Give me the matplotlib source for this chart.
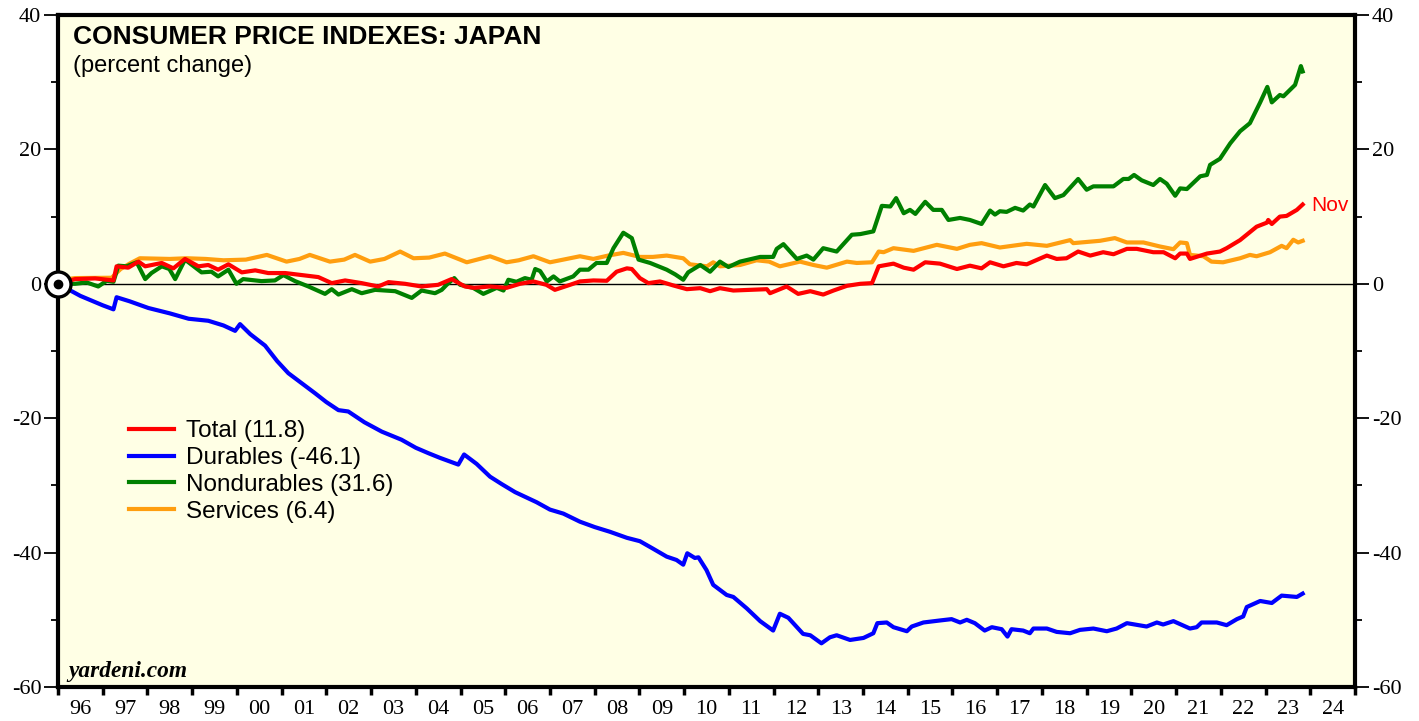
import matplotlib
matplotlib.use("Agg")
import matplotlib.pyplot as plt
from matplotlib.ticker import FixedLocator, MultipleLocator, NullFormatter
from matplotlib.lines import Line2D

plt.rcParams["axes.unicode_minus"] = False

# ---------------- data (decimal year, percent change since Jan 1996) ----------------
total_t = [1996.00, 1996.38, 1996.83, 1997.24, 1997.31, 1997.57, 1997.80, 1997.95, 1998.32, 1998.58,
           1998.84, 1999.14, 1999.36, 1999.58, 1999.81, 2000.11, 2000.41, 2000.70, 2001.08, 2001.45,
           2001.82, 2002.12, 2002.42, 2002.79, 2003.16, 2003.39, 2003.76, 2004.13, 2004.50, 2004.80,
           2005.10, 2005.30, 2005.66, 2006.03, 2006.33, 2006.63, 2006.92, 2007.11, 2007.45, 2007.67,
           2007.97, 2008.27, 2008.49, 2008.72, 2008.83, 2009.01, 2009.20, 2009.46, 2009.76, 2010.06,
           2010.36, 2010.58, 2010.80, 2011.10, 2011.47, 2011.85, 2011.92, 2012.29, 2012.55, 2012.82,
           2013.11, 2013.34, 2013.64, 2013.94, 2014.20, 2014.35, 2014.68, 2014.91, 2015.13, 2015.39,
           2015.72, 2016.10, 2016.39, 2016.65, 2016.84, 2017.14, 2017.43, 2017.66, 2018.11, 2018.33,
           2018.55, 2018.81, 2019.08, 2019.37, 2019.60, 2019.90, 2020.12, 2020.49, 2020.72, 2020.98,
           2021.09, 2021.24, 2021.31, 2021.69, 2021.98, 2022.13, 2022.43, 2022.80, 2023.03, 2023.06,
           2023.14, 2023.32, 2023.47, 2023.70, 2023.83]
total_v = [0.0, 0.7, 0.8, 0.5, 2.6, 2.4, 3.3, 2.6, 3.1, 2.3,
           3.7, 2.6, 2.8, 2.1, 2.9, 1.7, 2.0, 1.6, 1.6, 1.3,
           1.0, 0.1, 0.5, 0.1, -0.4, 0.25, 0.0, -0.4, -0.15, 0.7,
           -0.4, -0.6, -0.4, -0.6, 0.0, 0.35, -0.15, -0.9, -0.15, 0.35,
           0.5, 0.45, 1.8, 2.3, 2.2, 0.85, 0.1, 0.35, -0.25, -0.8,
           -0.65, -1.1, -0.65, -1.0, -0.9, -0.8, -1.4, -0.4, -1.5, -1.1,
           -1.6, -1.0, -0.3, 0.0, 0.1, 2.6, 3.0, 2.4, 2.1, 3.2,
           3.0, 2.2, 2.7, 2.3, 3.2, 2.6, 3.1, 2.9, 4.2, 3.7,
           3.8, 4.8, 4.2, 4.7, 4.4, 5.2, 5.2, 4.7, 4.7, 3.8,
           4.5, 4.5, 3.7, 4.5, 4.8, 5.3, 6.5, 8.5, 9.1, 9.5,
           8.9, 10.0, 10.1, 11.0, 11.8]

durables_t = [1996.00, 1996.50, 1997.00, 1997.24, 1997.31, 1997.60, 1998.02, 1998.50, 1998.92, 1999.36,
              1999.70, 1999.96, 2000.07, 2000.30, 2000.63, 2000.90, 2001.15, 2001.45, 2001.75, 2002.00,
              2002.27, 2002.49, 2002.85, 2003.24, 2003.68, 2004.00, 2004.28, 2004.54, 2004.95, 2005.08,
              2005.36, 2005.66, 2005.92, 2006.22, 2006.70, 2007.00, 2007.30, 2007.67, 2008.00, 2008.34,
              2008.72, 2009.01, 2009.30, 2009.61, 2009.83, 2009.98, 2010.07, 2010.24, 2010.32, 2010.50,
              2010.65, 2010.95, 2011.10, 2011.40, 2011.70, 2011.99, 2012.14, 2012.33, 2012.66, 2012.82,
              2013.07, 2013.26, 2013.41, 2013.71, 2014.01, 2014.23, 2014.32, 2014.53, 2014.68, 2014.98,
              2015.09, 2015.35, 2015.72, 2015.98, 2016.17, 2016.32, 2016.50, 2016.72, 2016.88, 2017.10,
              2017.23, 2017.32, 2017.58, 2017.73, 2017.81, 2018.11, 2018.33, 2018.63, 2018.85, 2019.15,
              2019.45, 2019.67, 2019.90, 2020.34, 2020.57, 2020.71, 2020.94, 2021.31, 2021.46, 2021.57,
              2021.91, 2022.13, 2022.36, 2022.50, 2022.58, 2022.88, 2023.14, 2023.36, 2023.70, 2023.83]
durables_v = [0.0, -1.8, -3.2, -3.8, -2.0, -2.6, -3.6, -4.4, -5.2, -5.5,
              -6.2, -7.0, -6.0, -7.5, -9.2, -11.5, -13.3, -14.8, -16.3, -17.6,
              -18.8, -19.0, -20.6, -22.0, -23.2, -24.4, -25.2, -25.9, -26.9, -25.4,
              -26.8, -28.7, -29.8, -31.0, -32.5, -33.6, -34.2, -35.4, -36.2, -36.9,
              -37.8, -38.3, -39.4, -40.6, -41.1, -41.8, -40.1, -40.8, -40.7, -42.6,
              -44.8, -46.3, -46.6, -48.3, -50.2, -51.6, -49.1, -49.7, -52.1, -52.3,
              -53.5, -52.6, -52.3, -53.0, -52.7, -52.0, -50.5, -50.4, -51.1, -51.7,
              -51.0, -50.4, -50.1, -49.9, -50.4, -50.0, -50.5, -51.6, -51.1, -51.4,
              -52.5, -51.4, -51.6, -52.0, -51.3, -51.3, -51.8, -52.0, -51.5, -51.3,
              -51.7, -51.3, -50.5, -51.0, -50.4, -50.7, -50.2, -51.3, -51.1, -50.4,
              -50.4, -50.8, -49.9, -49.5, -48.1, -47.2, -47.5, -46.4, -46.6, -46.1]

nondur_t = [1996.00, 1996.38, 1996.64, 1996.90, 1997.09, 1997.24, 1997.35, 1997.53, 1997.76, 1997.95,
            1998.09, 1998.32, 1998.49, 1998.62, 1998.84, 1999.21, 1999.43, 1999.58, 1999.81, 1999.99,
            2000.14, 2000.55, 2000.85, 2001.04, 2001.30, 2001.60, 2001.97, 2002.12, 2002.27, 2002.57,
            2002.79, 2003.09, 2003.54, 2003.91, 2004.13, 2004.43, 2004.58, 2004.69, 2004.86, 2004.99,
            2005.28, 2005.51, 2005.81, 2005.96, 2006.07, 2006.25, 2006.44, 2006.59, 2006.67, 2006.78,
            2006.93, 2007.08, 2007.22, 2007.52, 2007.67, 2007.86, 2008.04, 2008.27, 2008.42, 2008.64,
            2008.83, 2008.98, 2009.24, 2009.61, 2009.80, 2009.98, 2010.09, 2010.36, 2010.58, 2010.80,
            2010.99, 2011.25, 2011.70, 2011.99, 2012.07, 2012.22, 2012.52, 2012.74, 2012.89, 2013.11,
            2013.41, 2013.75, 2013.94, 2014.23, 2014.42, 2014.61, 2014.74, 2014.91, 2015.05, 2015.17,
            2015.39, 2015.57, 2015.76, 2015.91, 2016.17, 2016.39, 2016.65, 2016.84, 2016.95, 2017.06,
            2017.21, 2017.40, 2017.58, 2017.73, 2017.81, 2018.07, 2018.29, 2018.48, 2018.81, 2019.00,
            2019.15, 2019.60, 2019.82, 2019.94, 2020.06, 2020.23, 2020.49, 2020.64, 2020.79, 2020.98,
            2021.09, 2021.24, 2021.54, 2021.69, 2021.76, 2021.98, 2022.21, 2022.43, 2022.65, 2022.88,
            2023.04, 2023.14, 2023.32, 2023.40, 2023.66, 2023.79, 2023.83]
nondur_v = [0.0, 0.0, 0.2, -0.4, 0.45, 0.3, 2.7, 2.6, 3.2, 0.7,
            1.6, 2.6, 2.2, 0.7, 3.6, 1.7, 1.8, 1.1, 2.1, 0.0,
            0.7, 0.4, 0.5, 1.3, 0.4, -0.4, -1.5, -0.8, -1.6, -0.8,
            -1.4, -0.9, -1.1, -2.1, -1.0, -1.4, -0.9, -0.15, 0.85, -0.15,
            -0.6, -1.5, -0.6, -1.0, 0.6, 0.3, 0.85, 0.6, 2.2, 1.9,
            0.35, 1.1, 0.35, 1.1, 2.1, 2.1, 3.1, 3.1, 5.3, 7.6,
            6.8, 3.6, 3.1, 2.1, 1.4, 0.6, 1.7, 2.8, 1.8, 3.3,
            2.5, 3.3, 4.0, 4.0, 5.2, 5.9, 3.7, 4.2, 3.6, 5.3,
            4.8, 7.3, 7.4, 7.8, 11.6, 11.5, 12.75, 10.5, 11.0, 10.4,
            12.2, 11.0, 11.0, 9.5, 9.8, 9.5, 8.9, 10.9, 10.3, 10.8,
            10.7, 11.3, 10.9, 11.8, 11.5, 14.7, 12.75, 13.2, 15.6, 14.0,
            14.5, 14.5, 15.6, 15.6, 16.2, 15.4, 14.7, 15.6, 14.9, 13.1,
            14.2, 14.1, 16.0, 16.2, 17.7, 18.6, 20.9, 22.7, 23.9, 27.0,
            29.3, 27.0, 28.1, 27.9, 29.6, 32.4, 31.6]

services_t = [1996.00, 1996.38, 1997.20, 1997.40, 1997.60, 1997.83, 1998.50, 1998.88, 1999.30, 1999.70,
              2000.20, 2000.67, 2001.11, 2001.40, 2001.63, 2002.08, 2002.40, 2002.64, 2002.98, 2003.30,
              2003.65, 2003.95, 2004.30, 2004.65, 2004.99, 2005.14, 2005.66, 2006.03, 2006.30, 2006.63,
              2007.00, 2007.30, 2007.67, 2007.97, 2008.30, 2008.64, 2009.01, 2009.30, 2009.61, 2009.98,
              2010.13, 2010.51, 2010.65, 2010.80, 2011.25, 2011.62, 2011.90, 2012.14, 2012.40, 2012.59,
              2012.89, 2013.19, 2013.64, 2013.86, 2014.20, 2014.35, 2014.46, 2014.68, 2015.13, 2015.65,
              2016.10, 2016.39, 2016.65, 2017.06, 2017.66, 2018.11, 2018.63, 2018.70, 2019.30, 2019.63,
              2019.90, 2020.27, 2020.64, 2020.94, 2021.09, 2021.24, 2021.31, 2021.61, 2021.79, 2022.05,
              2022.43, 2022.65, 2022.80, 2023.10, 2023.36, 2023.47, 2023.62, 2023.73, 2023.83]
services_v = [0.5, 0.85, 0.9, 2.2, 3.0, 3.8, 3.7, 3.8, 3.7, 3.5,
              3.6, 4.3, 3.3, 3.7, 4.3, 3.3, 3.6, 4.3, 3.3, 3.7,
              4.8, 3.8, 3.9, 4.5, 3.6, 3.2, 4.1, 3.2, 3.5, 4.1,
              3.2, 3.6, 4.1, 3.7, 4.2, 4.6, 4.0, 4.0, 4.2, 3.8,
              2.9, 2.6, 3.2, 2.6, 2.8, 3.5, 3.3, 2.6, 3.0, 3.3,
              2.8, 2.4, 3.3, 3.1, 3.2, 4.8, 4.7, 5.3, 4.9, 5.8,
              5.2, 5.8, 6.05, 5.4, 5.95, 5.65, 6.5, 6.05, 6.4, 6.8,
              6.15, 6.15, 5.55, 5.15, 6.15, 6.05, 4.3, 4.1, 3.3, 3.2,
              3.8, 4.3, 4.1, 4.7, 5.65, 5.3, 6.55, 6.15, 6.4]

series_labels = ["Total (11.8)", "Durables (-46.1)", "Nondurables (31.6)", "Services (6.4)"]
series_colors = ["#FF0000", "#0000FF", "#008000", "#FF9E0F"]
year_labels = [f"{y % 100:02d}" for y in range(1996, 2025)]

# ---------------- figure ----------------
SERIF = ["Liberation Serif", "DejaVu Serif"]
SANS = ["Liberation Sans", "DejaVu Sans"]

fig = plt.figure(figsize=(14.19, 7.21), dpi=100)
fig.patch.set_facecolor("white")
ax = fig.add_axes([58 / 1419, 34 / 721, 1297 / 1419, 672 / 721])
ax.set_facecolor("#FFFFE5")

lw = 3.0
ax.axhline(0, color="black", lw=1.0, zorder=2)
order = [(total_t, total_v), (durables_t, durables_v), (nondur_t, nondur_v), (services_t, services_v)]
draw_order = [1, 3, 2, 0]
for i in draw_order:
    t, v = order[i]
    ax.plot(t, v, color=series_colors[i], lw=lw, solid_joinstyle="round", zorder=3 + (i == 0))

ax.set_xlim(1996, 2025)
ax.set_ylim(-60, 40)

# x ticks: year boundaries, labels centered mid-year
ax.xaxis.set_major_locator(FixedLocator(list(range(1996, 2026))))
ax.xaxis.set_major_formatter(NullFormatter())
ax.xaxis.set_minor_locator(FixedLocator([y + 0.5 for y in range(1996, 2025)]))
ax.set_xticklabels(year_labels, minor=True)
ax.tick_params(axis="x", which="major", direction="out", length=6, width=2.5, color="black")
ax.tick_params(axis="x", which="minor", length=0, pad=9, labelsize=16)

# y ticks both sides
ax.yaxis.set_major_locator(MultipleLocator(20))
ax.yaxis.set_minor_locator(MultipleLocator(10))
ax.tick_params(axis="y", which="major", direction="out", length=10, width=1.3,
               left=True, right=True, labelleft=True, labelright=True, labelsize=16, pad=2)
ax.tick_params(axis="y", which="minor", direction="out", length=5, width=1.3,
               left=True, right=True)
for lab in ax.get_xticklabels(minor=True):
    lab.set_family(SERIF)
for tl in ax.yaxis.get_major_ticks():
    tl.label1.set_family(SERIF)
    tl.label2.set_family(SERIF)

for s in ax.spines.values():
    s.set_linewidth(3)
    s.set_color("black")

# origin marker
ax.plot([1996], [0], marker="o", markersize=18, markerfacecolor="white",
        markeredgecolor="black", markeredgewidth=2.4, clip_on=False, zorder=10)
ax.plot([1996], [0], marker="o", markersize=6, color="black", clip_on=False, zorder=11)

# texts
ax.text(0.0116, 0.985, "CONSUMER PRICE INDEXES: JAPAN", transform=ax.transAxes,
        ha="left", va="top", fontsize=19, fontweight="bold", family=SANS)
ax.text(0.0116, 0.940, "(percent change)", transform=ax.transAxes,
        ha="left", va="top", fontsize=17, family=SANS)
ax.text(0.0077, 0.023, "yardeni.com", transform=ax.transAxes, ha="left", va="center",
        fontsize=16.8, fontweight="bold", fontstyle="italic", family=SERIF)
ax.annotate("Nov", xy=(total_t[-1], total_v[-1]), xytext=(6, -1), textcoords="offset points",
            ha="left", va="center", color="#FF0000", fontsize=15, family=SANS)

# legend
handles = [Line2D([0], [0], color=c, lw=lw) for c in series_colors]
leg = ax.legend(handles, series_labels, loc="upper left", bbox_to_anchor=(0.055, 0.397),
                frameon=False, prop={"family": SANS, "size": 17.5}, handlelength=1.85,
                handletextpad=0.5, labelspacing=0.2, borderpad=0, borderaxespad=0)

fig.savefig("out.png", dpi=100, facecolor="white")
